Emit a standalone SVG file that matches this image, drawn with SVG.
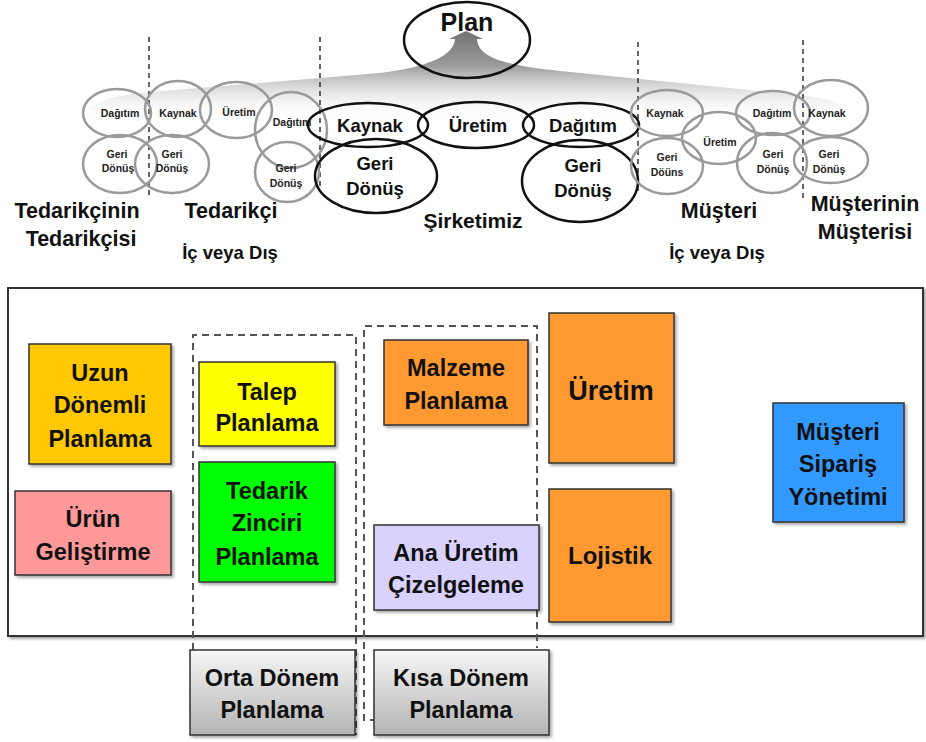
<svg xmlns="http://www.w3.org/2000/svg" width="926" height="742" viewBox="0 0 926 742">
<defs>
<linearGradient id="fan" gradientUnits="userSpaceOnUse" x1="0" y1="30" x2="0" y2="120">
<stop offset="0" stop-color="#707070"/>
<stop offset="0.4" stop-color="#9c9c9c"/>
<stop offset="1" stop-color="#ffffff" stop-opacity="0"/>
</linearGradient>
<linearGradient id="grayBox" x1="0" y1="0" x2="0" y2="1">
<stop offset="0" stop-color="#f6f6f6"/>
<stop offset="1" stop-color="#b4b4b4"/>
</linearGradient>
<filter id="sh" x="-10%" y="-10%" width="130%" height="130%">
<feDropShadow dx="2" dy="2" stdDeviation="1.5" flood-color="#000" flood-opacity="0.35"/>
</filter>
<style>
text{font-family:"Liberation Sans",Arial,sans-serif;font-weight:bold;fill:#111;text-anchor:middle}
.sm{font-size:10.5px;fill:#222}
.md{font-size:18.5px}
.lb{font-size:21.5px}
.lb2{font-size:18.5px}
.bx{font-size:23.5px}
.ge{fill:none;stroke:#9a9a9a;stroke-width:2.5}
.be{fill:none;stroke:#111;stroke-width:2.5}
.dv{stroke:#333;stroke-width:1.5;stroke-dasharray:5,4}
.box{stroke:#333;stroke-width:1.5;filter:url(#sh)}
.dash{fill:none;stroke:#555;stroke-width:2;stroke-dasharray:7,5}
</style>
</defs>
<rect width="926" height="742" fill="#fff"/>

<!-- fan / arrow to plan -->
<path d="M 466 31 L 483 39 L 477 39 C 478 56, 500 65, 560 71 L 800 95 Q 832 99 845 106 L 845 120 L 90 120 L 90 108 Q 108 95 150 92 L 380 73 C 430 67, 454 55, 455 39 L 449 39 Z" fill="url(#fan)"/>

<!-- dividers -->
<g id="dividers">
<line class="dv" x1="149" y1="37" x2="149" y2="195"/>
<line class="dv" x1="320" y1="37" x2="320" y2="192"/>
<line class="dv" x1="638" y1="42" x2="638" y2="192"/>
<line class="dv" x1="803" y1="40" x2="803" y2="200"/>
</g>

<g id="plan">
<ellipse class="be" cx="467" cy="40" rx="63" ry="38"/>
<text x="467" y="31" style="font-size:25px">Plan</text>
</g>

<!-- Supplier's supplier -->
<g id="tt">
<ellipse class="ge" cx="117" cy="113" rx="34" ry="24"/>
<text class="sm" x="120" y="117">Dağıtım</text>
<ellipse class="ge" cx="120" cy="164" rx="37" ry="29"/>
<text class="sm" x="117" y="158">Geri</text>
<text class="sm" x="118" y="172">Dönüş</text>
<text class="lb" x="77" y="218">Tedarikçinin</text>
<text class="lb" x="81" y="246">Tedarikçisi</text>
</g>

<!-- Supplier -->
<g id="ted">
<ellipse class="ge" cx="178" cy="109" rx="33" ry="28"/>
<text class="sm" x="178" y="117">Kaynak</text>
<ellipse class="ge" cx="236" cy="110" rx="36" ry="28"/>
<text class="sm" x="239" y="116">Üretim</text>
<ellipse class="ge" cx="291" cy="130" rx="36" ry="38"/>
<text class="sm" x="292" y="126">Dağıtım</text>
<ellipse class="ge" cx="172" cy="164" rx="37" ry="29"/>
<text class="sm" x="172" y="158">Geri</text>
<text class="sm" x="172" y="172">Dönüş</text>
<ellipse class="ge" cx="287" cy="172" rx="32" ry="30"/>
<text class="sm" x="286" y="172">Geri</text>
<text class="sm" x="286" y="187">Dönüş</text>
<text class="lb" x="231" y="218">Tedarikçi</text>
<text class="lb2" x="230" y="259">İç veya Dış</text>
</g>

<!-- Company -->
<g id="sirket">
<ellipse class="be" cx="368" cy="125" rx="60" ry="22"/>
<text class="md" x="370" y="132">Kaynak</text>
<ellipse class="be" cx="476" cy="125" rx="58" ry="23"/>
<text class="md" x="478" y="132">Üretim</text>
<ellipse class="be" cx="581" cy="125" rx="58" ry="22"/>
<text class="md" x="583" y="132">Dağıtım</text>
<ellipse class="be" cx="376" cy="176" rx="61" ry="37"/>
<text class="md" x="375" y="170">Geri</text>
<text class="md" x="375" y="195">Dönüş</text>
<ellipse class="be" cx="580" cy="181" rx="58" ry="41"/>
<text class="md" x="583" y="172">Geri</text>
<text class="md" x="583" y="197">Dönüş</text>
<text x="473" y="228" style="font-size:21px">Şirketimiz</text>
</g>

<!-- Customer -->
<g id="musteri">
<ellipse class="ge" cx="667" cy="113" rx="36" ry="23"/>
<text class="sm" x="665" y="117">Kaynak</text>
<ellipse class="ge" cx="719" cy="138" rx="37" ry="26"/>
<text class="sm" x="720" y="146">Üretim</text>
<ellipse class="ge" cx="773" cy="113" rx="37" ry="22"/>
<text class="sm" x="772" y="117">Dağıtım</text>
<ellipse class="ge" cx="667" cy="166" rx="36" ry="28"/>
<text class="sm" x="667" y="161">Geri</text>
<text class="sm" x="667" y="176">Döüns</text>
<ellipse class="ge" cx="772" cy="163" rx="35" ry="30"/>
<text class="sm" x="773" y="158">Geri</text>
<text class="sm" x="773" y="173">Dönüş</text>
<text class="lb" x="719" y="218">Müşteri</text>
<text class="lb2" x="717" y="259">İç veya Dış</text>
</g>

<!-- Customer's customer -->
<g id="mm">
<ellipse class="ge" cx="831" cy="108" rx="37" ry="28"/>
<text class="sm" x="827" y="117">Kaynak</text>
<ellipse class="ge" cx="831" cy="160" rx="37" ry="23"/>
<text class="sm" x="829" y="158">Geri</text>
<text class="sm" x="829" y="173">Dönüş</text>
<text class="lb" x="865" y="211">Müşterinin</text>
<text class="lb" x="865" y="239">Müşterisi</text>
</g>

<!-- Bottom frame -->
<rect id="frame" x="8" y="288" width="915" height="348" fill="#fff" stroke="#333" stroke-width="2" filter="url(#sh)"/>

<g id="groups">
<path class="dash" d="M 193 650 L 193 335 L 356 335 L 356 735"/>
<path class="dash" d="M 377 720 L 364 720 L 364 326 L 537 326 L 537 648"/>
</g>

<g id="uzun">
<rect class="box" x="29" y="344" width="142" height="120" fill="#ffc800"/>
<text class="bx" x="100" y="381">Uzun</text>
<text class="bx" x="100" y="413">Dönemli</text>
<text class="bx" x="100" y="447">Planlama</text>
</g>
<g id="urun">
<rect class="box" x="15" y="491" width="156" height="84" fill="#ff9999"/>
<text class="bx" x="93" y="527">Ürün</text>
<text class="bx" x="93" y="560">Geliştirme</text>
</g>
<g id="talep">
<rect class="box" x="199" y="362" width="136" height="84" fill="#ffff00"/>
<text class="bx" x="267" y="400">Talep</text>
<text class="bx" x="267" y="431">Planlama</text>
</g>
<g id="tzp">
<rect class="box" x="199" y="462" width="136" height="120" fill="#00ff00"/>
<text class="bx" x="267" y="499">Tedarik</text>
<text class="bx" x="267" y="531">Zinciri</text>
<text class="bx" x="267" y="565">Planlama</text>
</g>
<g id="malzeme">
<rect class="box" x="384" y="340" width="144" height="85" fill="#ff9933"/>
<text class="bx" x="456" y="376">Malzeme</text>
<text class="bx" x="456" y="409">Planlama</text>
</g>
<g id="ana">
<rect class="box" x="374" y="525" width="165" height="85" fill="#d9d2ff"/>
<text class="bx" x="456" y="561">Ana Üretim</text>
<text class="bx" x="456" y="593">Çizelgeleme</text>
</g>
<g id="uretim">
<rect class="box" x="549" y="313" width="125" height="150" fill="#ff9933"/>
<text x="611" y="400" style="font-size:27px">Üretim</text>
</g>
<g id="lojistik">
<rect class="box" x="549" y="489" width="122" height="133" fill="#ff9933"/>
<text x="610" y="564" style="font-size:24px">Lojistik</text>
</g>
<g id="msy">
<rect class="box" x="773" y="403" width="131" height="119" fill="#3399ff"/>
<text class="bx" x="838" y="440">Müşteri</text>
<text class="bx" x="838" y="472">Sipariş</text>
<text class="bx" x="838" y="505">Yönetimi</text>
</g>
<g id="orta">
<rect class="box" x="190" y="650" width="165" height="85" fill="url(#grayBox)"/>
<text class="bx" x="272" y="686">Orta Dönem</text>
<text class="bx" x="272" y="718">Planlama</text>
</g>
<g id="kisa">
<rect class="box" x="374" y="650" width="175" height="85" fill="url(#grayBox)"/>
<text class="bx" x="461" y="686">Kısa Dönem</text>
<text class="bx" x="461" y="718">Planlama</text>
</g>
</svg>
